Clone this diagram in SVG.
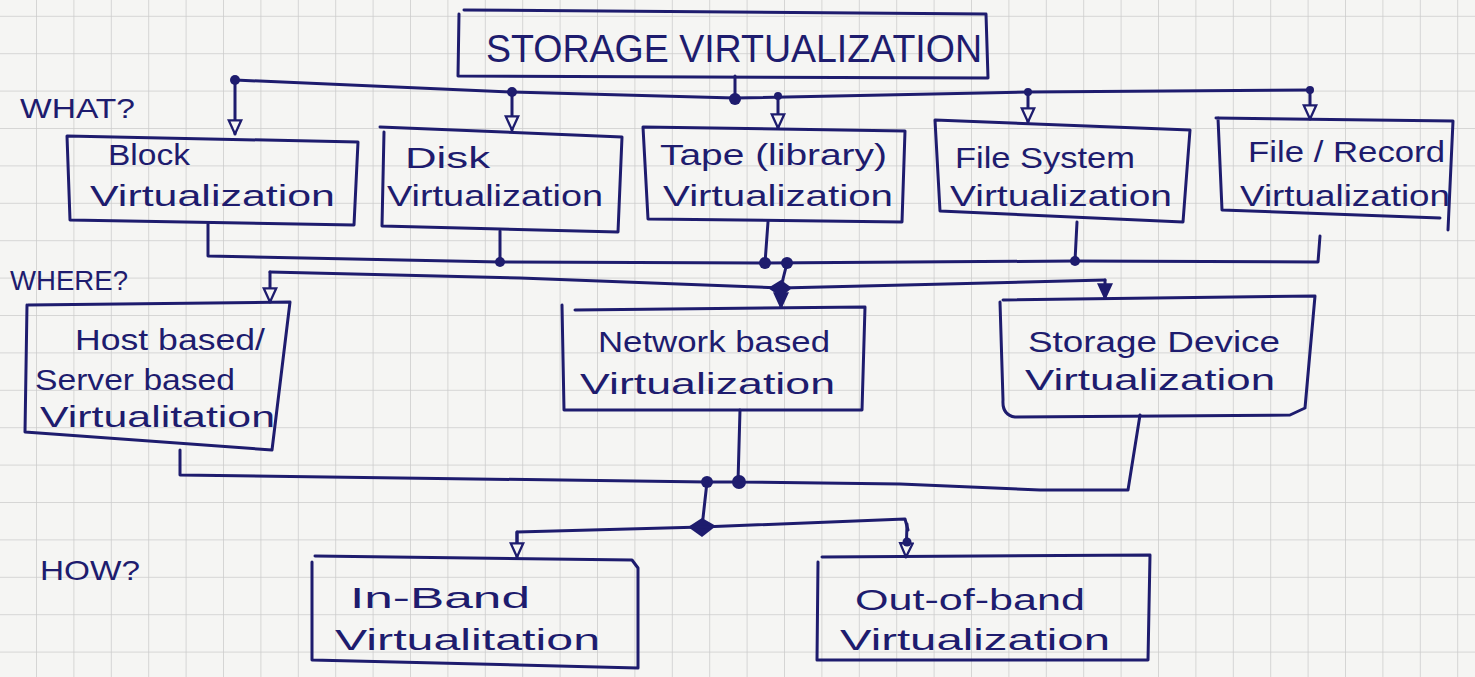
<svg xmlns="http://www.w3.org/2000/svg" width="1475" height="677" viewBox="0 0 1475 677">
<defs>
<pattern id="grid" patternUnits="userSpaceOnUse" x="36" y="15.8" width="37.4" height="37.4">
<path d="M0,0 H37.4 M0,0 V37.4" fill="none" stroke="#cbcbcb" stroke-width="1.5"/>
</pattern>
<marker id="open" viewBox="0 0 14 14" refX="13" refY="7" markerWidth="16" markerHeight="16" markerUnits="userSpaceOnUse" orient="auto">
<path d="M1,1.5 L13,7 L1,12.5 Z" fill="#f6f6f4" stroke="#1e1c6e" stroke-width="2"/>
</marker>
<marker id="solid" viewBox="0 0 14 14" refX="13" refY="7" markerWidth="16" markerHeight="16" markerUnits="userSpaceOnUse" orient="auto">
<path d="M1,1.5 L13,7 L1,12.5 Z" fill="#1e1c6e" stroke="#1e1c6e" stroke-width="2"/>
</marker>
</defs>
<style>
.box{fill:none;stroke:#1e1c6e;stroke-width:3;stroke-linejoin:round;stroke-linecap:round}
.ln{fill:none;stroke:#1e1c6e;stroke-width:3;stroke-linejoin:round;stroke-linecap:round}
.t{font-family:"Liberation Sans","DejaVu Sans",sans-serif;fill:#1e1c6e;font-size:30px}
.title{font-size:38px}
.h{font-size:28px}
.jd{fill:#1e1c6e}
</style>
<rect width="1475" height="677" fill="#f5f5f3"/>
<rect width="1475" height="677" fill="url(#grid)"/>

<g id="labels">
<text class="t h" x="20" y="118" textLength="115" lengthAdjust="spacingAndGlyphs">WHAT?</text>
<text class="t h" x="10" y="290" textLength="118" lengthAdjust="spacingAndGlyphs">WHERE?</text>
<text class="t h" x="40" y="580" textLength="100" lengthAdjust="spacingAndGlyphs">HOW?</text>
</g>

<g id="storage-virtualization">
<path class="box" d="M464,10 L986,14 L988,78 L458,76 L459,14"/>
<text class="t title" x="486" y="62" textLength="496" lengthAdjust="spacingAndGlyphs">STORAGE  VIRTUALIZATION</text>
</g>

<g id="block">
<path class="box" d="M67,136 L358,142 L354,225 L70,220 Z"/>
<text class="t" x="108" y="165" textLength="82" lengthAdjust="spacingAndGlyphs">Block</text>
<text class="t" x="90" y="206" textLength="245" lengthAdjust="spacingAndGlyphs">Virtualization</text>
</g>
<g id="disk">
<path class="box" d="M380,127 L622,137 L618,232 L382,226 L384,132"/>
<text class="t" x="405" y="168" textLength="85" lengthAdjust="spacingAndGlyphs">Disk</text>
<text class="t" x="387" y="206" textLength="216" lengthAdjust="spacingAndGlyphs">Virtualization</text>
</g>
<g id="tape">
<path class="box" d="M643,127 L905,131 L902,222 L648,219 Z"/>
<text class="t" x="660" y="165" textLength="227" lengthAdjust="spacingAndGlyphs">Tape (library)</text>
<text class="t" x="663" y="206" textLength="230" lengthAdjust="spacingAndGlyphs">Virtualization</text>
</g>
<g id="file-system">
<path class="box" d="M935,120 L1190,130 L1183,222 L940,211 Z"/>
<text class="t" x="955" y="168" textLength="180" lengthAdjust="spacingAndGlyphs">File System</text>
<text class="t" x="950" y="206" textLength="222" lengthAdjust="spacingAndGlyphs">Virtualization</text>
</g>
<g id="file-record">
<path class="box" d="M1216,118 L1453,121 L1448,230 M1440,218 L1222,210 L1218,118"/>
<text class="t" x="1248" y="162" textLength="197" lengthAdjust="spacingAndGlyphs">File / Record</text>
<text class="t" x="1240" y="206" textLength="210" lengthAdjust="spacingAndGlyphs">Virtualization</text>
</g>

<g id="host-based">
<path class="box" d="M28,305 L290,302 L272,450 L25,432 L27,305"/>
<text class="t" x="75" y="350" textLength="190" lengthAdjust="spacingAndGlyphs">Host based/</text>
<text class="t" x="35" y="390" textLength="200" lengthAdjust="spacingAndGlyphs">Server based</text>
<text class="t" x="40" y="427" textLength="235" lengthAdjust="spacingAndGlyphs">Virtualitation</text>
</g>
<g id="network-based">
<path class="box" d="M575,310 L865,307 L862,410 L564,410 L562,305"/>
<text class="t" x="598" y="352" textLength="232" lengthAdjust="spacingAndGlyphs">Network based</text>
<text class="t" x="580" y="394" textLength="255" lengthAdjust="spacingAndGlyphs">Virtualization</text>
</g>
<g id="storage-device">
<path class="box" d="M1003,300 L1315,296 L1305,408 L1290,415 L1015,417 Q1002,415 1003,400 L1000,302"/>
<text class="t" x="1028" y="352" textLength="252" lengthAdjust="spacingAndGlyphs">Storage Device</text>
<text class="t" x="1025" y="390" textLength="250" lengthAdjust="spacingAndGlyphs">Virtualization</text>
</g>

<g id="in-band">
<path class="box" d="M315,556 L632,560 L638,568 L638,668 L312,660 L312,562"/>
<text class="t" x="350" y="608" textLength="180" lengthAdjust="spacingAndGlyphs">In-Band</text>
<text class="t" x="335" y="650" textLength="265" lengthAdjust="spacingAndGlyphs">Virtualitation</text>
</g>
<g id="out-of-band">
<path class="box" d="M822,557 L1150,555 L1148,660 L817,660 L818,562"/>
<text class="t" x="855" y="610" textLength="230" lengthAdjust="spacingAndGlyphs">Out-of-band</text>
<text class="t" x="840" y="650" textLength="270" lengthAdjust="spacingAndGlyphs">Virtualization</text>
</g>

<g id="connectors">
<path class="ln" d="M735,76 L735,99"/>
<path class="ln" d="M235,80 L512,92 L735,98 L1028,92 L1310,90"/>
<path class="ln" marker-end="url(#open)" d="M235,80 L235,134"/>
<path class="ln" marker-end="url(#open)" d="M512,92 L512,130"/>
<path class="ln" marker-end="url(#open)" d="M778,96 L778,128"/>
<path class="ln" marker-end="url(#open)" d="M1028,92 L1028,122"/>
<path class="ln" marker-end="url(#open)" d="M1310,90 L1310,119"/>
<circle class="jd" cx="235" cy="80" r="5"/>
<circle class="jd" cx="512" cy="92" r="5"/>
<circle class="jd" cx="735" cy="99" r="6"/>
<circle class="jd" cx="778" cy="96" r="4"/>
<circle class="jd" cx="1028" cy="92" r="4"/>
<circle class="jd" cx="1310" cy="90" r="4"/>
<path class="ln" d="M208,224 L208,256 L500,262 L765,263 L1075,261 L1318,262 L1320,236"/>
<path class="ln" d="M500,231 L500,262"/>
<path class="ln" d="M768,222 L765,263"/>
<path class="ln" d="M1077,222 L1075,261"/>
<circle class="jd" cx="500" cy="262" r="5"/>
<circle class="jd" cx="765" cy="263" r="6"/>
<circle class="jd" cx="787" cy="263" r="6"/>
<circle class="jd" cx="1075" cy="261" r="5"/>
<path class="ln" d="M787,263 L781,287"/>
<path class="ln" d="M270,272 L520,278 L781,288 L1105,280"/>
<path class="ln" marker-end="url(#open)" d="M270,272 L270,302"/>
<path class="ln" marker-end="url(#solid)" d="M781,288 L781,307"/>
<path class="ln" marker-end="url(#solid)" d="M1105,280 L1105,298"/>
<path class="jd" d="M768,288 L781,280 L792,288 L781,297 Z"/>
<path class="ln" d="M180,450 L180,475 L707,482"/>
<path class="ln" d="M740,410 L738,482 L900,484 L1040,490 L1128,490 L1140,415"/>
<path class="ln" d="M707,482 L738,482"/>
<circle class="jd" cx="707" cy="482" r="6"/>
<circle class="jd" cx="739" cy="482" r="7"/>
<path class="ln" d="M707,482 L702,527"/>
<path class="jd" d="M688,527 L702,518 L716,526 L702,537 Z"/>
<path class="ln" d="M517,545 L517,532 L702,527 L905,519 L908,530"/>
<path class="ln" marker-end="url(#open)" d="M517,532 L517,557"/>
<path class="ln" marker-end="url(#open)" d="M907,524 L906,557"/>
<circle class="jd" cx="907" cy="542" r="4.5"/>
</g>
</svg>
